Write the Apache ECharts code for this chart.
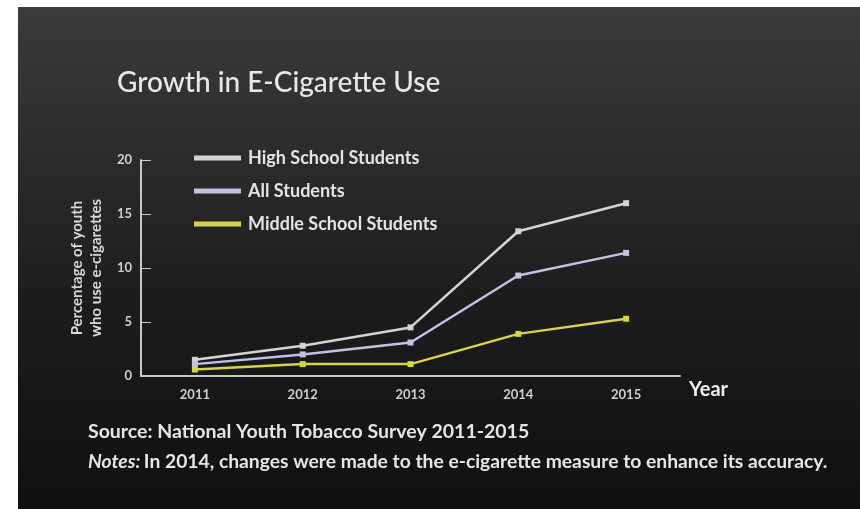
<!DOCTYPE html>
<html><head><meta charset="utf-8">
<script src="https://cdn.jsdelivr.net/npm/echarts@6/dist/echarts.min.js"></script>
<style>html,body{margin:0;padding:0;background:#fff}#c{width:860px;height:509px}</style>
</head><body><div id="c"></div>
<script>
const years = ['2011','2012','2013','2014','2015'];
const highSchool = [1.5, 2.8, 4.5, 13.4, 16.0];
const allStudents = [1.1, 2.0, 3.1, 9.3, 11.4];
const middleSchool = [0.6, 1.1, 1.1, 3.9, 5.3];
const seriesNames = ['High School Students', 'All Students', 'Middle School Students'];
const yTicks = [0, 5, 10, 15, 20];

const chart = echarts.init(document.getElementById('c'));
const font = 'Lato, "Open Sans", sans-serif';
function mk(name, data, color) {
  return {
    name, type: 'line', data,
    symbol: 'rect', symbolSize: 6,
    lineStyle: { color, width: 2.5 },
    itemStyle: { color },
    z: 5
  };
}
chart.setOption({
  backgroundColor: '#ffffff',
  animation: false,
  graphic: [
    { type: 'rect', shape: { x: 18, y: 7, width: 842, height: 502 }, z: -10,
      style: { fill: new echarts.graphic.LinearGradient(0, 0, 0, 1, [
        { offset: 0, color: '#3b3b3b' }, { offset: 0.25, color: '#2e2e2e' },
        { offset: 0.6, color: '#1c1c1c' }, { offset: 1, color: '#101010' }]) } },
    { type: 'text', left: 117, top: 69, z: 10,
      style: { text: 'Growth in E-Cigarette Use', fill: '#e8e8e8', font: '500 28px ' + font } },
    { type: 'text', left: 88, top: 422, z: 10,
      style: { text: 'Source: National Youth Tobacco Survey 2011-2015', fill: '#e6e6e6', font: 'bold 19.5px ' + font } },
    { type: 'text', left: 88, top: 452, z: 10,
      style: { rich: { i: { fontStyle: 'italic', fontSize: 19.3, fontFamily: font, fontWeight: 'bold', fill: '#e6e6e6' },
                       n: { fontSize: 19.3, fontFamily: font, fontWeight: 'bold', fill: '#e6e6e6' } },
               text: '{i|Notes:} {n|In 2014, changes were made to the e-cigarette measure to enhance its accuracy.}' } },
    { type: 'text', left: 689, top: 380, z: 10,
      style: { text: 'Year', fill: '#eeeeee', font: 'bold 20px ' + font } },
    { type: 'text', x: 87, y: 268, rotation: Math.PI / 2, z: 10,
      style: { text: 'Percentage of youth\nwho use e-cigarettes', fill: '#d8d8d8', font: 'bold 15px ' + font,
               align: 'center', verticalAlign: 'middle', lineHeight: 19 } }
  ],
  legend: {
    orient: 'vertical', left: 189, top: 144, itemGap: 15,
    itemWidth: 47, itemHeight: 5, icon: 'rect',
    textStyle: { color: '#e4e4e4', fontSize: 18, fontFamily: font, fontWeight: 'bold', padding: [0, 0, 0, 2] },
    data: seriesNames
  },
  grid: { left: 141, right: 180, top: 160, bottom: 133 },
  xAxis: {
    type: 'category', data: years, boundaryGap: true,
    axisLine: { lineStyle: { color: '#c8c8c8', width: 2 } },
    axisTick: { inside: true, length: 6, lineStyle: { color: '#c8c8c8' } },
    axisLabel: { color: '#cfcfcf', fontSize: 13, fontFamily: font, fontWeight: 'bold', margin: 12 }
  },
  yAxis: {
    type: 'value', min: 0, max: 20, interval: 5,
    splitLine: { show: false },
    axisLine: { show: true, lineStyle: { color: '#c8c8c8', width: 2 } },
    axisTick: { show: true, inside: true, length: 10, lineStyle: { color: '#c8c8c8' } },
    axisLabel: { color: '#cfcfcf', fontSize: 13, fontFamily: font, fontWeight: 'bold', margin: 9,
      formatter: v => yTicks.includes(v) ? String(v) : '' }
  },
  series: [
    mk(seriesNames[0], highSchool, '#d4d4d4'),
    mk(seriesNames[1], allStudents, '#bfc2e6'),
    mk(seriesNames[2], middleSchool, '#d9d34a')
  ]
});
</script></body></html>
